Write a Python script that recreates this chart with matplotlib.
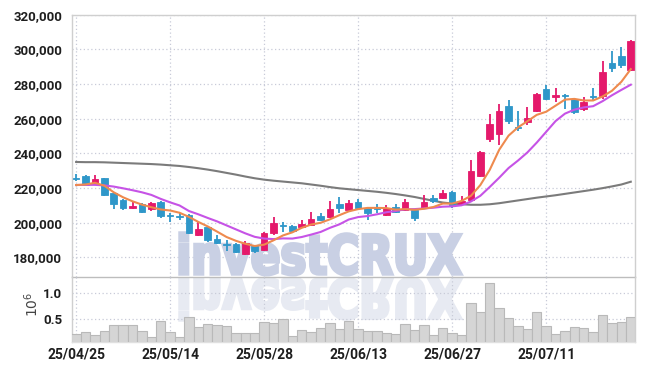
import matplotlib
matplotlib.use('Agg')
import matplotlib.pyplot as plt
import matplotlib.transforms as mtrans
from matplotlib.textpath import TextPath
from matplotlib.patches import PathPatch
from matplotlib.font_manager import FontProperties
import numpy as np

# daily candles, prices in thousands of won
opens = [225.8, 227.0, 222.3, 225.8, 216.9, 213.0, 208.3, 210.8, 207.9, 212.1,
         204.2, 203.9, 204.4, 193.0, 197.7, 190.6, 187.6, 187.7, 182.0, 186.8,
         184.2, 194.1, 198.5, 198.0, 197.4, 198.9, 204.0, 203.1, 210.8, 207.2,
         211.8, 208.3, 208.1, 204.6, 208.9, 207.2, 207.5, 208.5, 214.4, 214.4,
         217.9, 211.0, 213.0, 226.8, 248.0, 251.3, 267.5, 255.3, 258.0, 264.3,
         277.4, 272.3, 273.5, 271.4, 265.6, 272.8, 272.9, 292.1, 296.4, 288.3]
highs = [227.8, 227.6, 227.3, 226.0, 217.6, 213.6, 212.3, 211.2, 212.0, 212.6,
         205.5, 205.5, 205.0, 200.6, 198.2, 192.9, 190.0, 188.2, 189.4, 187.3,
         194.6, 203.1, 200.6, 198.5, 201.6, 206.0, 205.5, 212.7, 214.6, 213.0,
         213.7, 208.8, 210.8, 210.0, 210.7, 213.7, 208.0, 216.1, 216.0, 219.0,
         218.5, 215.5, 236.4, 241.3, 262.8, 268.7, 271.0, 264.7, 266.8, 275.0,
         279.7, 277.8, 274.3, 272.0, 272.3, 277.8, 293.1, 298.8, 301.4, 305.2]
lows = [223.8, 221.6, 221.8, 215.6, 208.0, 207.5, 207.9, 205.5, 206.8, 202.5,
        200.4, 201.3, 193.5, 192.5, 189.0, 187.8, 183.7, 182.5, 181.5, 182.4,
        183.6, 192.9, 194.8, 194.8, 197.0, 198.0, 201.2, 202.5, 205.5, 206.7,
        207.8, 201.6, 205.5, 204.1, 205.5, 206.7, 201.2, 208.0, 211.5, 213.5,
        208.5, 210.0, 212.5, 226.2, 246.7, 245.0, 257.0, 252.8, 256.4, 263.8,
        271.0, 269.5, 265.8, 262.5, 264.4, 271.0, 271.5, 286.8, 289.2, 287.5]
closes = [225.2, 222.0, 225.2, 216.1, 210.8, 208.3, 209.8, 206.0, 211.4, 203.7,
          203.9, 203.5, 193.9, 196.2, 190.1, 188.3, 187.2, 183.1, 188.3, 183.4,
          194.3, 199.8, 198.1, 195.4, 199.3, 202.2, 201.7, 207.6, 208.3, 211.4,
          208.3, 205.6, 207.7, 208.3, 206.0, 211.8, 202.5, 211.8, 212.7, 217.3,
          209.8, 212.3, 229.7, 240.7, 257.0, 264.7, 258.5, 254.8, 260.2, 274.5,
          271.6, 273.9, 273.1, 263.7, 269.6, 272.4, 287.0, 289.2, 290.8, 305.0]

# moving averages (thousands)
ma5 = [221.7, 222.0, 223.0, 221.3, 217.5, 214.6, 212.3, 210.4, 208.9, 207.6,
       207.0, 205.7, 203.3, 200.4, 197.8, 194.8, 191.7, 189.5, 187.8, 186.5,
       187.3, 189.8, 192.6, 194.4, 197.0, 198.9, 199.9, 201.9, 204.3, 206.5,
       207.8, 208.5, 208.5, 208.4, 207.5, 207.8, 207.4, 208.0, 209.0, 211.0,
       211.0, 212.5, 215.5, 221.7, 230.5, 242.0, 250.2, 255.0, 258.5, 262.2,
       264.0, 267.5, 271.0, 271.4, 270.5, 270.5, 272.8, 276.1, 281.3, 288.6]
ma10 = [221.7, 221.8, 221.8, 221.5, 220.8, 219.8, 218.7, 217.5, 216.0, 213.7,
        211.7, 209.9, 206.7, 204.8, 202.7, 200.7, 198.4, 196.1, 193.8, 191.8,
        190.8, 190.5, 190.9, 190.8, 191.7, 193.1, 194.6, 197.0, 199.0, 201.8,
        203.2, 203.8, 204.8, 206.0, 206.7, 207.7, 207.8, 208.2, 208.6, 209.2,
        209.4, 210.0, 212.2, 215.5, 220.6, 225.9, 231.5, 235.8, 240.5, 246.2,
        252.4, 258.6, 262.9, 265.2, 266.5, 267.2, 270.1, 273.5, 276.6, 279.6]
ma60 = [235.0, 234.9, 234.9, 234.8, 234.6, 234.4, 234.2, 234.0, 233.8, 233.5,
        233.1, 232.7, 232.1, 231.4, 230.6, 229.7, 228.7, 227.7, 226.6, 225.6,
        224.8, 224.2, 223.7, 223.2, 222.7, 222.0, 221.3, 220.5, 219.8, 219.3,
        218.8, 218.3, 217.8, 217.2, 216.5, 215.7, 214.8, 213.7, 212.6, 211.6,
        211.0, 210.6, 210.3, 210.3, 210.6, 211.2, 212.0, 212.8, 213.6, 214.4,
        215.1, 215.8, 216.6, 217.4, 218.2, 219.0, 219.9, 220.9, 222.0, 223.6]

# volume, millions
volume = [0.217, 0.25, 0.19, 0.275, 0.385, 0.385, 0.385, 0.275, 0.154, 0.46,
          0.25, 0.154, 0.54, 0.346, 0.41, 0.385, 0.365, 0.23, 0.23, 0.23,
          0.448, 0.43, 0.50, 0.173, 0.288, 0.256, 0.327, 0.43, 0.308, 0.46,
          0.314, 0.275, 0.275, 0.237, 0.217, 0.404, 0.288, 0.39, 0.19, 0.327,
          0.23, 0.19, 0.81, 0.635, 1.19, 0.71, 0.52, 0.365, 0.314, 0.635,
          0.365, 0.217, 0.275, 0.346, 0.327, 0.256, 0.583, 0.43, 0.448, 0.544]

tick_idx = [0, 10, 20, 30, 40, 50]
tick_dates = ['25/04/25', '25/05/14', '25/05/28', '25/06/13', '25/06/27', '25/07/11']
price_ticks = [180000, 200000, 220000, 240000, 260000, 280000, 300000, 320000]

UP = '#e4196b'
DOWN = '#2f97c9'
GRID = '#c8cbd8'
TXT = '#1e1e1e'
FONT = ['Roboto', 'DejaVu Sans']

x = np.arange(len(closes))
o = np.array(opens) * 1000
h = np.array(highs) * 1000
l = np.array(lows) * 1000
c = np.array(closes) * 1000
cols = [UP if cc >= oo else DOWN for oo, cc in zip(o, c)]

fig = plt.figure(figsize=(6.45, 3.71), dpi=100, facecolor='white')
ax = fig.add_axes([0.1112, 0.2542, 0.8733, 0.7062])
axv = fig.add_axes([0.1112, 0.0774, 0.8733, 0.1768], sharex=ax)
axv.set_facecolor('none')

# candles
ax.vlines(x, l, h, colors=cols, linewidth=1.3, zorder=3)
body = np.maximum(np.abs(c - o), 500)
ax.bar(x, body, bottom=np.minimum(o, c), width=0.7, color=cols,
       edgecolor=cols, linewidth=0.6, zorder=4)

ax.plot(x, np.array(ma60) * 1000, color='#7b7b7b', lw=1.5, zorder=2.5)
ax.plot(x, np.array(ma10) * 1000, color='#c653e6', lw=1.5, zorder=5)
ax.plot(x, np.array(ma5) * 1000, color='#ee8a4e', lw=1.5, zorder=5)

ax.set_xlim(-0.47, 59.45)
ax.set_ylim(168800, 320000)
ax.set_yticks(price_ticks)
ax.set_yticklabels(['{:,}'.format(v) for v in price_ticks])
ax.set_axisbelow(True)
ax.grid(True, color=GRID, linestyle=(0, (1, 2)), linewidth=0.9)
ax.tick_params(axis='y', length=0, pad=7, labelsize=9.5, labelcolor=TXT)
ax.tick_params(axis='x', length=0, labelbottom=False)

# volume
axv.bar(x, volume, width=1.0, color='#d5d5d5', edgecolor='#b9b9b9',
        linewidth=0.8, zorder=3)
axv.set_ylim(0.058, 1.319)
axv.set_yticks([0.5, 1.0])
axv.set_yticklabels(['0.5', '1.0'])
axv.set_xticks(tick_idx)
axv.set_xticklabels(tick_dates)
axv.set_axisbelow(True)
axv.grid(True, color=GRID, linestyle=(0, (1, 2)), linewidth=0.9)
axv.tick_params(axis='y', length=0, pad=7, labelsize=9.5, labelcolor=TXT)
axv.tick_params(axis='x', length=0, pad=4, labelsize=10, labelcolor=TXT)

for lab in ax.get_yticklabels() + axv.get_yticklabels() + axv.get_xticklabels():
    lab.set_family(FONT)
    lab.set_fontweight('bold')

for a in (ax, axv):
    for s in a.spines.values():
        s.set_color('#cfcfcf')
        s.set_linewidth(1.0)
ax.spines['bottom'].set_color('#bdbdbd')
axv.spines['top'].set_visible(False)
axv.spines['bottom'].set_color('#e0e0e0')

fig.text(32 / 645, 1 - 304 / 371, r'$10^6$', rotation=90, ha='center',
         va='center', fontsize=10, color='#444444')

# watermark with reflection
tp = TextPath((0, 0), 'investCRUX', size=100,
              prop=FontProperties(family='DejaVu Sans', weight='bold'))
ext = tp.get_extents()
sx = 281 / ext.width
sy = 41 / ext.y1
tr = mtrans.Affine2D().translate(-ext.x0, 0).scale(sx, sy).translate(180, 97)
wm = PathPatch(tp, transform=tr, facecolor='#c9d0e4', edgecolor='#c9d0e4',
               linewidth=2.5, zorder=1)
ax.add_artist(wm)
wm.set_clip_on(False)
tr2 = mtrans.Affine2D().translate(-ext.x0, 0).scale(sx, -sy).translate(180, 92)
wm2 = PathPatch(tp, transform=tr2, facecolor='#e7eaf2', edgecolor='#e7eaf2',
                linewidth=2.5, zorder=1)
ax.add_artist(wm2)
wm2.set_clip_on(False)

fig.savefig('out.png', dpi=100, facecolor='white')
